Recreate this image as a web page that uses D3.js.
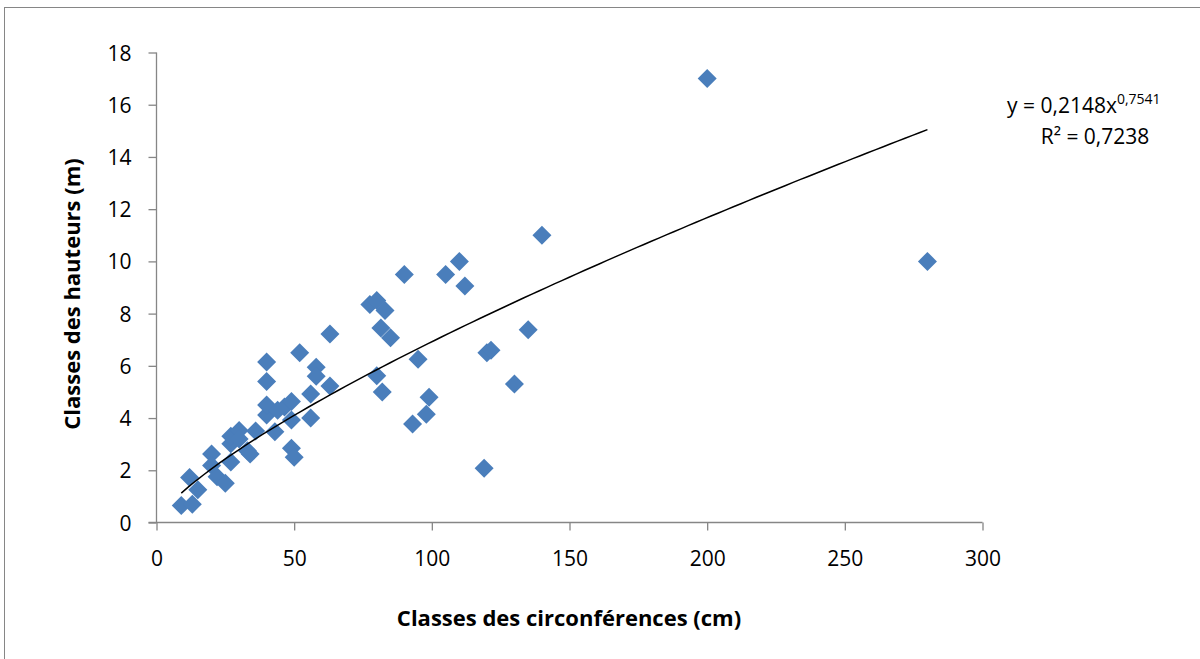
<!DOCTYPE html>
<html>
<head>
<meta charset="utf-8">
<script src="https://cdn.jsdelivr.net/npm/d3@7"></script>
<style>
  html, body { margin: 0; padding: 0; background: #fff; }
  svg { display: block; }
  text { font-family: "Open Sans", "Noto Sans", sans-serif; fill: #000; }
</style>
</head>
<body>
<svg id="chart" width="1200" height="659"></svg>
<script>
// Circumference class (cm) of each tree
const circumferences = [
  9, 13, 12, 15, 20, 20, 22, 25, 27, 27, 27, 30, 30, 33, 34, 36,
  40, 40, 40, 40, 43, 44, 46.5, 49, 49, 49, 50, 52, 56, 56, 58, 58,
  63, 63, 77.5, 80, 83, 81.5, 85, 80, 82, 90, 93, 95, 98, 99, 105,
  110, 112, 119, 120, 121.5, 130, 135, 140, 200, 280
];
// Height class (m) of each tree
const heights = [
  0.65, 0.7, 1.72, 1.25, 2.62, 2.18, 1.75, 1.5, 3.02, 3.3, 2.32, 3.52, 3.2, 2.75, 2.62, 3.5,
  4.12, 4.5, 5.4, 6.15, 3.48, 4.3, 4.42, 4.63, 3.93, 2.84, 2.5, 6.5, 4.92, 4.0, 5.95, 5.6,
  5.23, 7.22, 8.35, 8.5, 8.12, 7.45, 7.08, 5.62, 5.0, 9.5, 3.77, 6.25, 4.15, 4.8, 9.5,
  10.0, 9.06, 2.08, 6.5, 6.6, 5.3, 7.38, 11.0, 17.0, 10.0
];
const xTicks = [0, 50, 100, 150, 200, 250, 300];
const yTicks = [0, 2, 4, 6, 8, 10, 12, 14, 16, 18];
// Power trend line y = a * x^b
const trendA = 0.2148;
const trendB = 0.7541;
const rSquared = "0,7238";

const points = circumferences.map((c, i) => ({ x: c, y: heights[i] }));

const svg = d3.select("#chart");
const axisColor = "#868686";
const markColor = "#4a7ebb";

// outer frame
svg.append("rect")
  .attr("x", 4.5).attr("y", 7.5)
  .attr("width", 1300).attr("height", 800)
  .attr("fill", "none").attr("stroke", axisColor).attr("stroke-width", 1);

const x = d3.scaleLinear().domain([0, 300]).range([156.5, 982.5]);
const y = d3.scaleLinear().domain([0, 18]).range([522.5, 52.5]);

const fmt = d => String(d);

// y axis
const gy = svg.append("g").attr("transform", `translate(${x(0)},0)`)
  .call(d3.axisLeft(y).tickValues(yTicks).tickFormat(fmt).tickSize(8).tickPadding(17));
// x axis
const gx = svg.append("g").attr("transform", `translate(0,${y(0)})`)
  .call(d3.axisBottom(x).tickValues(xTicks).tickFormat(fmt).tickSize(8).tickPadding(28));

[gx, gy].forEach(g => {
  g.select(".domain").attr("stroke", axisColor).attr("stroke-width", 1.3);
  g.selectAll(".tick line").attr("stroke", axisColor).attr("stroke-width", 1.3);
  g.selectAll(".tick text").attr("font-size", 21).attr("fill", "#000")
    .style("font-family", "'Open Sans', sans-serif");
});
gx.select(".domain").attr("d", `M${x(0) - 8},0H${x(300)}`);
gy.select(".domain").attr("d", `M0,${y(0)}V${y(18)}`);
gy.selectAll(".tick text").attr("dy", "0.36em");
gx.selectAll(".tick text").attr("dy", "0.36em");

// diamonds
const diamond = "M0,-9.5L9.5,0L0,9.5L-9.5,0Z";
svg.append("g").selectAll("path")
  .data(points)
  .join("path")
  .attr("d", diamond)
  .attr("transform", d => `translate(${x(d.x)},${y(d.y)})`)
  .attr("fill", markColor);

// power trend line over the observed circumference range
const xMin = d3.min(circumferences), xMax = d3.max(circumferences);
const trendXs = d3.range(0, 101).map(i => xMin + (xMax - xMin) * i / 100);
svg.append("path")
  .datum(trendXs)
  .attr("d", d3.line().x(v => x(v)).y(v => y(trendA * Math.pow(v, trendB))))
  .attr("fill", "none").attr("stroke", "#000").attr("stroke-width", 1.5);

// trend equation
const eq = svg.append("text").attr("x", 1007).attr("y", 113).attr("font-size", 21);
eq.append("tspan").text("y = " + String(trendA).replace(".", ",") + "x");
eq.append("tspan").attr("dy", -9).attr("font-size", 14).text(String(trendB).replace(".", ","));
svg.append("text").attr("x", 1095).attr("y", 144).attr("font-size", 21)
  .attr("text-anchor", "middle").text("R² = " + rSquared);

// axis titles
svg.append("text").attr("x", 569).attr("y", 626).attr("text-anchor", "middle")
  .attr("font-size", 22).attr("font-weight", "bold").text("Classes des circonférences (cm)");
svg.append("text").attr("transform", "translate(80,294) rotate(-90)")
  .attr("text-anchor", "middle").attr("font-size", 22).attr("font-weight", "bold")
  .text("Classes des hauteurs (m)");
</script>
</body>
</html>
